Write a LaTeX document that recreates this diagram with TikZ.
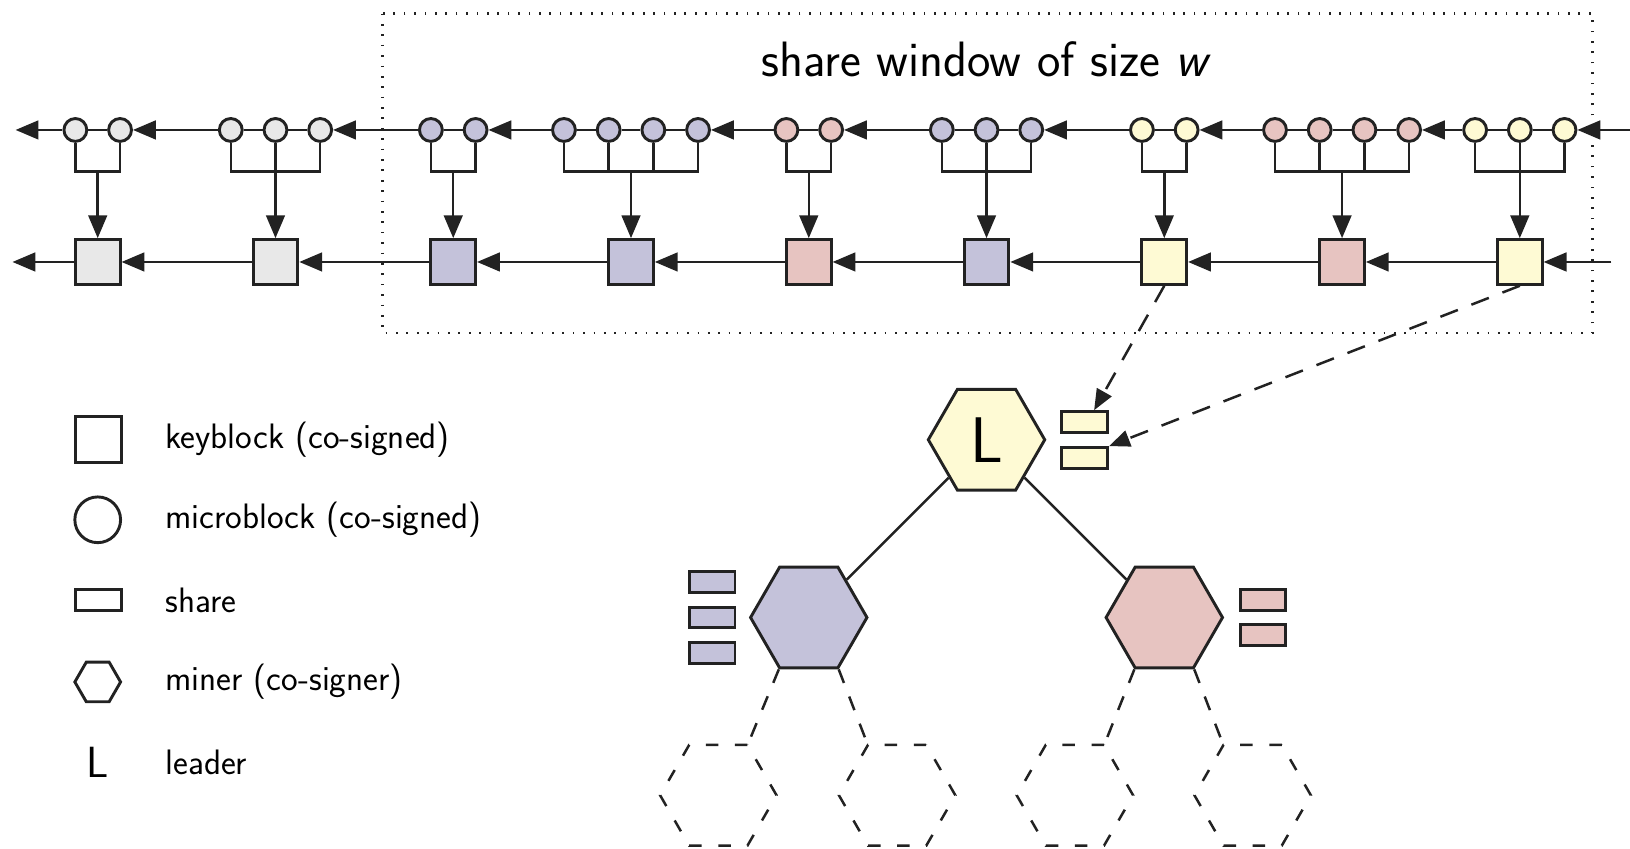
\documentclass[tikz,border=0pt]{standalone}
\usepackage{amsmath,amssymb,tikz}
\usetikzlibrary{arrows.meta,shapes.geometric,calc}
\usepackage{xcolor}
\definecolor{greyb}{HTML}{E8E8E8}
\definecolor{purpleb}{HTML}{C4C2DA}
\definecolor{pinkb}{HTML}{E7C4C1}
\definecolor{yellowb}{HTML}{FEFAD4}
\definecolor{inkc}{HTML}{222222}

\begin{document}
\begin{tikzpicture}[x=0.5pt,y=0.5pt,yscale=-1,xscale=1,line width=1.2pt,draw=inkc,
  arr/.style={-{Triangle[length=11pt,width=9pt]}},
  darr/.style={-{Triangle[length=10pt,width=8pt]},dash pattern=on 9pt off 7pt},
  mblock/.style={circle,draw=inkc,line width=1.4pt,minimum size=11pt,inner sep=0pt},
  kblock/.style={rectangle,draw=inkc,line width=1.4pt,minimum size=21.5pt,inner sep=0pt},
  share/.style={rectangle,draw=inkc,line width=1.4pt,minimum width=22pt,minimum height=10pt,inner sep=0pt},
  miner/.style={regular polygon,regular polygon sides=6,draw=inkc,line width=1.4pt,minimum size=56pt,inner sep=0pt},
  ghost/.style={miner,line width=1.2pt,dash pattern=on 6pt off 8pt},
  window/.style={line width=1.1pt,dash pattern=on 0.8pt off 4.2pt},
  legtext/.style={anchor=west,inner sep=0pt,font=\sffamily\fontsize{17}{20}\selectfont},
]
\useasboundingbox (0,0) rectangle (1568,816);

%Shape: Rectangle (share window)
\draw [window] (368,13) rectangle (1532,320);
% Text Node
\node [font=\sffamily\fontsize{23.9}{28}\selectfont] (title) at (949,57) {share window of size \textit{w}};

%Shape: Circles (microblocks)
\node [mblock,fill=greyb] (m11) at (72.5,125) {};
\node [mblock,fill=greyb] (m12) at (115.5,125) {};
\node [mblock,fill=greyb] (m21) at (222,125) {};
\node [mblock,fill=greyb] (m22) at (265,125) {};
\node [mblock,fill=greyb] (m23) at (308,125) {};
\node [mblock,fill=purpleb] (m31) at (414.5,125) {};
\node [mblock,fill=purpleb] (m32) at (457.5,125) {};
\node [mblock,fill=purpleb] (m41) at (542.5,125) {};
\node [mblock,fill=purpleb] (m42) at (585.5,125) {};
\node [mblock,fill=purpleb] (m43) at (628.5,125) {};
\node [mblock,fill=purpleb] (m44) at (671.5,125) {};
\node [mblock,fill=pinkb] (m51) at (756.5,125) {};
\node [mblock,fill=pinkb] (m52) at (799.5,125) {};
\node [mblock,fill=purpleb] (m61) at (906,125) {};
\node [mblock,fill=purpleb] (m62) at (949,125) {};
\node [mblock,fill=purpleb] (m63) at (992,125) {};
\node [mblock,fill=yellowb] (m71) at (1098.5,125) {};
\node [mblock,fill=yellowb] (m72) at (1141.5,125) {};
\node [mblock,fill=pinkb] (m81) at (1226.5,125) {};
\node [mblock,fill=pinkb] (m82) at (1269.5,125) {};
\node [mblock,fill=pinkb] (m83) at (1312.5,125) {};
\node [mblock,fill=pinkb] (m84) at (1355.5,125) {};
\node [mblock,fill=yellowb] (m91) at (1419,125) {};
\node [mblock,fill=yellowb] (m92) at (1462,125) {};
\node [mblock,fill=yellowb] (m93) at (1505,125) {};

%Shape: Squares (keyblocks)
\node [kblock,fill=greyb] (k1) at (94,252) {};
\node [kblock,fill=greyb] (k2) at (265,252) {};
\node [kblock,fill=purpleb] (k3) at (436,252) {};
\node [kblock,fill=purpleb] (k4) at (607,252) {};
\node [kblock,fill=pinkb] (k5) at (778,252) {};
\node [kblock,fill=purpleb] (k6) at (949,252) {};
\node [kblock,fill=yellowb] (k7) at (1120,252) {};
\node [kblock,fill=pinkb] (k8) at (1291,252) {};
\node [kblock,fill=yellowb] (k9) at (1462,252) {};

% chain ends
\coordinate (tl) at (15,125);
\coordinate (tr) at (1568,125);
\coordinate (bl) at (12,252);
\coordinate (br) at (1550,252);

%Straight Lines (microblock chain)
\draw [arr] (m11) -- (tl);
\draw (m11) -- (m12);
\draw [arr] (m21) -- (m12);
\draw (m21) -- (m22) -- (m23);
\draw [arr] (m31) -- (m23);
\draw (m31) -- (m32);
\draw [arr] (m41) -- (m32);
\draw (m41) -- (m42) -- (m43) -- (m44);
\draw [arr] (m51) -- (m44);
\draw (m51) -- (m52);
\draw [arr] (m61) -- (m52);
\draw (m61) -- (m62) -- (m63);
\draw [arr] (m71) -- (m63);
\draw (m71) -- (m72);
\draw [arr] (m81) -- (m72);
\draw (m81) -- (m82) -- (m83) -- (m84);
\draw [arr] (m91) -- (m84);
\draw (m91) -- (m92) -- (m93);
\draw [arr] (tr) -- (m93);

%Straight Lines (keyblock chain)
\draw [arr] (k1) -- (bl);
\draw [arr] (k2) -- (k1);
\draw [arr] (k3) -- (k2);
\draw [arr] (k4) -- (k3);
\draw [arr] (k5) -- (k4);
\draw [arr] (k6) -- (k5);
\draw [arr] (k7) -- (k6);
\draw [arr] (k8) -- (k7);
\draw [arr] (k9) -- (k8);
\draw [arr] (br) -- (k9);

%Straight Lines (brackets)
\coordinate (b1) at (94,165);
\coordinate (b2) at (265,165);
\coordinate (b3) at (436,165);
\coordinate (b4) at (607,165);
\coordinate (b5) at (778,165);
\coordinate (b6) at (949,165);
\coordinate (b7) at (1120,165);
\coordinate (b8) at (1291,165);
\coordinate (b9) at (1462,165);
\draw (m11.south) |- (b1) -| (m12.south);
\draw [arr] (b1) -- (k1);
\draw (m21.south) |- (b2) -| (m23.south);
\draw [arr] (m22.south) -- (k2);
\draw (m31.south) |- (b3) -| (m32.south);
\draw [arr] (b3) -- (k3);
\draw (m41.south) |- (b4) -| (m44.south);
\draw (m42.south) -- (m42.south |- b4);
\draw (m43.south) -- (m43.south |- b4);
\draw [arr] (b4) -- (k4);
\draw (m51.south) |- (b5) -| (m52.south);
\draw [arr] (b5) -- (k5);
\draw (m61.south) |- (b6) -| (m63.south);
\draw [arr] (m62.south) -- (k6);
\draw (m71.south) |- (b7) -| (m72.south);
\draw [arr] (b7) -- (k7);
\draw (m81.south) |- (b8) -| (m84.south);
\draw (m82.south) -- (m82.south |- b8);
\draw (m83.south) -- (m83.south |- b8);
\draw [arr] (b8) -- (k8);
\draw (m91.south) |- (b9) -| (m93.south);
\draw [arr] (m92.south) -- (k9);

%Shape: Hexagons (miners)
\node [miner,fill=yellowb,font=\sffamily\fontsize{31}{31}\selectfont] (lead) at (949,423) {L};
\node [miner,fill=purpleb] (minerp) at (778,594) {};
\node [miner,fill=pinkb] (minerr) at (1120,594) {};
\node [ghost] (ga) at (691,765) {};
\node [ghost] (gb) at (863,765) {};
\node [ghost] (gc) at (1034,765) {};
\node [ghost] (gd) at (1205,765) {};

%Straight Lines (tree)
\draw (lead) -- (minerp);
\draw (lead) -- (minerr);
\draw [dash pattern=on 7pt off 7pt] (minerp.240) -- (ga.60);
\draw [dash pattern=on 7pt off 7pt] (minerp.300) -- (gb.120);
\draw [dash pattern=on 7pt off 7pt] (minerr.240) -- (gc.60);
\draw [dash pattern=on 7pt off 7pt] (minerr.300) -- (gd.120);

%Shape: Rectangles (shares)
\node [share,fill=yellowb] (sy1) at (1043.5,406) {};
\node [share,fill=yellowb] (sy2) at (1043.5,440.5) {};
\node [share,fill=purpleb] (sp1) at (685,560) {};
\node [share,fill=purpleb] (sp2) at (685,594) {};
\node [share,fill=purpleb] (sp3) at (685,628) {};
\node [share,fill=pinkb] (sr1) at (1215,577) {};
\node [share,fill=pinkb] (sr2) at (1215,611) {};

%Curve Lines (shares sent to leader)
\draw [darr] (k7.south) -- ([xshift=4.5pt]sy1.north);
\draw [darr] (k9.south) -- (sy2.north east);

%Legend
\node [kblock,minimum size=22pt] (lk) at (95,423) {};
\node [mblock,minimum size=22pt] (lm) at (94,500) {};
\node [share] (ls) at (95,577) {};
\node [miner,minimum size=22pt] (lh) at (94,656) {};
\node [font=\sffamily\fontsize{21}{21}\selectfont] (ll) at (94,733) {L};
% Text Node
\node [legtext] (tk) at (158,423) {keyblock (co-signed)};
\node [legtext] (tm) at (158,500) {microblock (co-signed)};
\node [legtext] (ts) at (158,578) {share};
\node [legtext] (th) at (158,656) {miner (co-signer)};
\node [legtext] (tl2) at (158,733) {leader};
\end{tikzpicture}
\end{document}
